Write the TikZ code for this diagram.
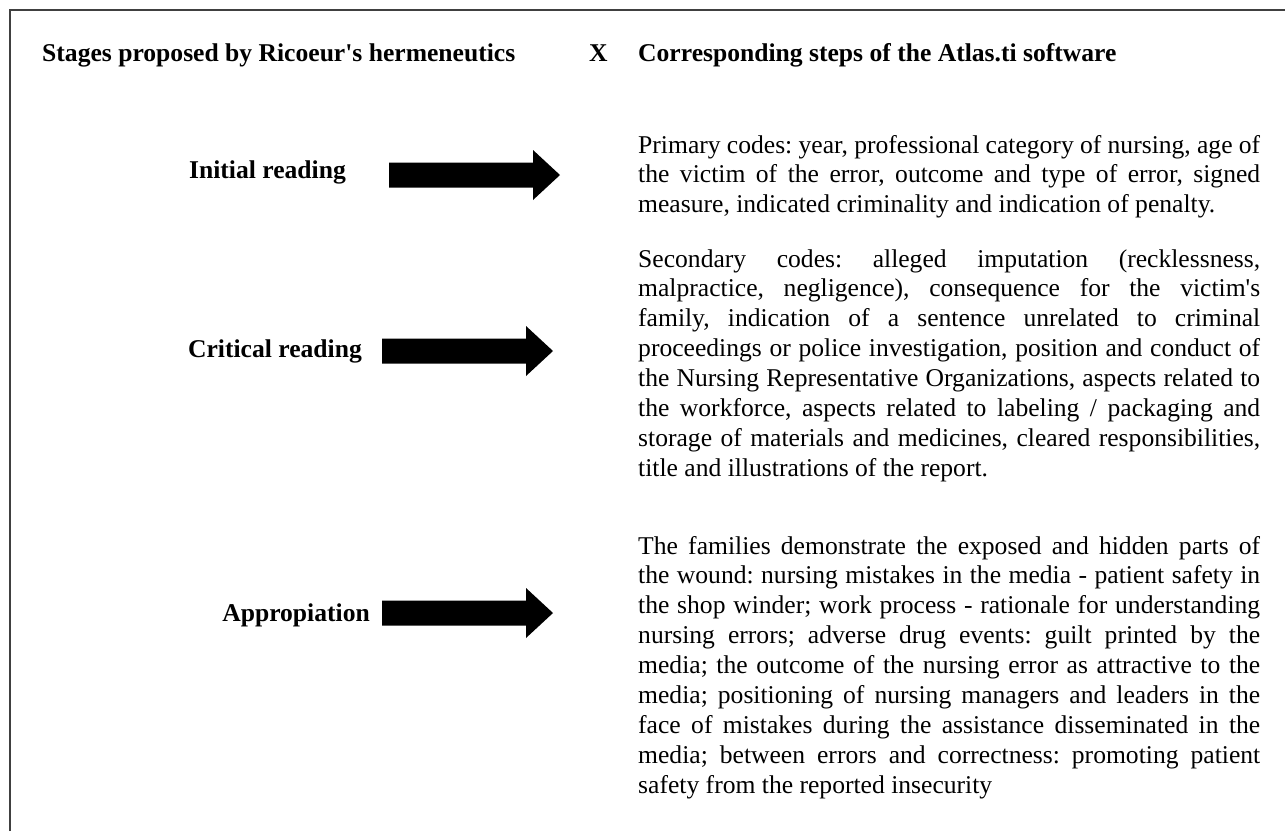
\documentclass[tikz,border=0pt]{standalone}
\usepackage{fontspec}
\setmainfont{Liberation Serif}
\tikzset{
    headtext/.style={font=\fontsize{25.6}{29.7}\selectfont\bfseries, inner sep=0pt, anchor=base west},
    stagelabel/.style={font=\fontsize{25.6}{29.7}\selectfont\bfseries, inner sep=0pt, anchor=base east},
    codetext/.style={font=\fontsize{25.6}{29.9}\selectfont, text width=622pt, align=justify, inner sep=0pt, anchor=base west},
}
\tolerance=10000
\hyphenpenalty=10000
\frenchspacing

\begin{document}
\begin{tikzpicture}[x=1pt,y=-1pt]
\useasboundingbox (0,0) rectangle (1285,831);
\draw[line width=1.5pt, black!75] (10,831) -- (10,10) -- (1285,10);
% column heads
\node[headtext] (stages) at (42,61) {Stages proposed by Ricoeur\textquotesingle s hermeneutics};
\node[headtext] (cross) at (589,61) {X};
\node[headtext] (steps) at (638,61) {Corresponding steps of the Atlas.ti software};
% stages
\node[stagelabel] (initial) at (346,178) {Initial reading};
\node[stagelabel] (critical) at (362,357) {Critical reading};
\node[stagelabel] (approp) at (370,621) {Appropiation};
% block arrows
\foreach \x/\y in {389/175, 382/351, 382/613}
    \fill (\x,\y-12.5) -- (\x+144,\y-12.5) -- (\x+144,\y-25) -- (\x+171,\y) -- (\x+144,\y+25) -- (\x+144,\y+12.5) -- (\x,\y+12.5) -- cycle;
% codes
\node[codetext] (primary) at (638,153) {Primary codes: year, professional category of nursing, age of\linebreak
the victim of the error, outcome and type of error, signed\linebreak
measure, indicated criminality and indication of penalty.};
\node[codetext] (secondary) at (638,267) {Secondary codes: alleged imputation (recklessness,\linebreak
malpractice, negligence), consequence for the victim\textquotesingle s\linebreak
family, indication of a sentence unrelated to criminal\linebreak
proceedings or police investigation, position and conduct of\linebreak
the Nursing Representative Organizations, aspects related to\linebreak
the workforce, aspects related to labeling / packaging and\linebreak
storage of materials and medicines, cleared responsibilities,\linebreak
title and illustrations of the report.};
\node[codetext] (families) at (638,554) {The families demonstrate the exposed and hidden parts of\linebreak
the wound: nursing mistakes in the media - patient safety in\linebreak
the shop winder; work process - rationale for understanding\linebreak
nursing errors; adverse drug events: guilt printed by the\linebreak
media; the outcome of the nursing error as attractive to the\linebreak
media; positioning of nursing managers and leaders in the\linebreak
face of mistakes during the assistance disseminated in the\linebreak
media; between errors and correctness: promoting patient\linebreak
safety from the reported insecurity};
\end{tikzpicture}
\end{document}
